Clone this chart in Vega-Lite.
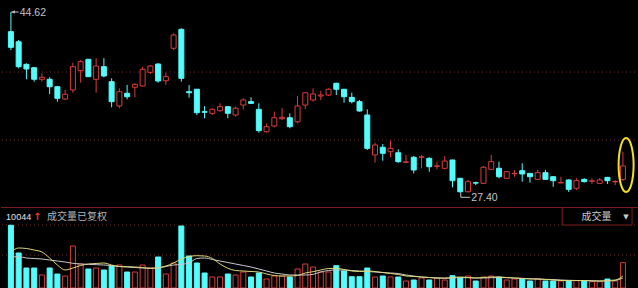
{
  "$schema": "https://vega.github.io/schema/vega-lite/v6.json",
  "background": "#000000",
  "padding": 0,
  "width": 638,
  "height": 288,
  "config": {"view": {"stroke": null}},
  "resolve": {"scale": {"y": "independent"}},
  "datasets": {
    "k": [
      {"i":0,"o":42.75,"h":44.62,"l":41.00,"c":41.26,"v":10044,"m5":5760,"m10":4960},
      {"i":1,"o":41.79,"h":41.96,"l":39.26,"c":39.42,"v":5600,"m5":6400,"m10":5010},
      {"i":2,"o":39.64,"h":39.74,"l":38.22,"c":39.20,"v":3200,"m5":6320,"m10":4800},
      {"i":3,"o":39.32,"h":39.39,"l":37.99,"c":38.22,"v":3200,"m5":6080,"m10":4720},
      {"i":4,"o":38.22,"h":38.79,"l":37.99,"c":38.41,"v":2080,"m5":5760,"m10":4640},
      {"i":5,"o":38.22,"h":38.41,"l":36.82,"c":37.51,"v":3200,"m5":4800,"m10":4480},
      {"i":6,"o":37.51,"h":37.58,"l":36.09,"c":36.41,"v":2240,"m5":3680,"m10":4320},
      {"i":7,"o":36.34,"h":37.20,"l":36.25,"c":36.79,"v":1920,"m5":2880,"m10":4160},
      {"i":8,"o":37.20,"h":39.80,"l":36.94,"c":39.42,"v":6720,"m5":3200,"m10":3950},
      {"i":9,"o":39.04,"h":40.05,"l":37.89,"c":39.89,"v":3840,"m5":3600,"m10":3840},
      {"i":10,"o":40.12,"h":40.15,"l":38.44,"c":38.47,"v":3040,"m5":3840,"m10":3790},
      {"i":11,"o":38.22,"h":40.22,"l":36.94,"c":39.48,"v":3200,"m5":3920,"m10":3730},
      {"i":12,"o":39.42,"h":40.22,"l":38.41,"c":38.53,"v":2880,"m5":4000,"m10":3680},
      {"i":13,"o":37.99,"h":38.31,"l":35.55,"c":36.09,"v":3520,"m5":3680,"m10":3600},
      {"i":14,"o":35.68,"h":37.36,"l":35.46,"c":37.04,"v":3680,"m5":3440,"m10":3440},
      {"i":15,"o":36.89,"h":37.68,"l":36.31,"c":36.56,"v":2560,"m5":3410,"m10":3360},
      {"i":16,"o":37.46,"h":37.84,"l":36.50,"c":37.74,"v":2560,"m5":3360,"m10":3280},
      {"i":17,"o":37.58,"h":39.42,"l":37.51,"c":39.17,"v":3680,"m5":3280,"m10":3200},
      {"i":18,"o":38.88,"h":39.58,"l":38.72,"c":39.48,"v":3200,"m5":3150,"m10":3150},
      {"i":19,"o":39.67,"h":39.74,"l":37.89,"c":38.06,"v":4960,"m5":3250,"m10":3200},
      {"i":20,"o":38.08,"h":38.85,"l":37.68,"c":38.47,"v":2240,"m5":3520,"m10":3440},
      {"i":21,"o":41.17,"h":42.59,"l":41.00,"c":42.43,"v":4000,"m5":4000,"m10":3680},
      {"i":22,"o":42.97,"h":43.07,"l":37.99,"c":38.31,"v":9920,"m5":4640,"m10":3790},
      {"i":23,"o":37.04,"h":37.68,"l":36.47,"c":36.94,"v":5120,"m5":5040,"m10":4000},
      {"i":24,"o":37.27,"h":37.30,"l":34.82,"c":35.04,"v":4000,"m5":5170,"m10":4720},
      {"i":25,"o":35.14,"h":35.68,"l":34.51,"c":35.08,"v":2400,"m5":5120,"m10":4800},
      {"i":26,"o":34.98,"h":35.46,"l":34.82,"c":35.36,"v":1760,"m5":4720,"m10":4560},
      {"i":27,"o":35.23,"h":35.93,"l":35.14,"c":35.61,"v":1760,"m5":3840,"m10":4320},
      {"i":28,"o":35.61,"h":35.68,"l":34.51,"c":34.98,"v":2240,"m5":3150,"m10":4080},
      {"i":29,"o":34.82,"h":35.61,"l":34.66,"c":35.46,"v":2080,"m5":2800,"m10":3840},
      {"i":30,"o":35.77,"h":36.41,"l":35.36,"c":36.25,"v":2560,"m5":2720,"m10":3600},
      {"i":31,"o":36.09,"h":36.50,"l":35.87,"c":35.93,"v":1760,"m5":2640,"m10":3360},
      {"i":32,"o":35.36,"h":35.93,"l":33.14,"c":33.33,"v":2400,"m5":2560,"m10":3040},
      {"i":33,"o":33.23,"h":34.03,"l":33.14,"c":33.71,"v":1440,"m5":2240,"m10":2720},
      {"i":34,"o":33.77,"h":35.14,"l":33.65,"c":34.56,"v":1920,"m5":2000,"m10":2400},
      {"i":35,"o":34.47,"h":35.46,"l":34.35,"c":34.60,"v":1920,"m5":1920,"m10":2240},
      {"i":36,"o":34.56,"h":34.98,"l":33.56,"c":33.71,"v":1760,"m5":1920,"m10":2080},
      {"i":37,"o":34.18,"h":36.63,"l":34.03,"c":35.68,"v":3040,"m5":2000,"m10":2080},
      {"i":38,"o":35.77,"h":36.97,"l":35.36,"c":36.94,"v":3840,"m5":2400,"m10":2080},
      {"i":39,"o":36.25,"h":37.36,"l":36.09,"c":36.82,"v":3360,"m5":2610,"m10":2190},
      {"i":40,"o":36.63,"h":37.13,"l":36.25,"c":36.72,"v":2560,"m5":2880,"m10":2560},
      {"i":41,"o":36.72,"h":37.36,"l":36.63,"c":37.27,"v":2560,"m5":3120,"m10":2800},
      {"i":42,"o":37.84,"h":37.89,"l":36.72,"c":37.27,"v":3570,"m5":3150,"m10":2880},
      {"i":43,"o":37.27,"h":37.30,"l":35.99,"c":36.56,"v":2720,"m5":2960,"m10":2880},
      {"i":44,"o":36.50,"h":36.94,"l":35.93,"c":36.09,"v":1810,"m5":2720,"m10":2800},
      {"i":45,"o":36.09,"h":36.25,"l":35.14,"c":35.20,"v":1810,"m5":2640,"m10":2720},
      {"i":46,"o":34.82,"h":35.36,"l":31.49,"c":31.65,"v":3200,"m5":2720,"m10":2640},
      {"i":47,"o":31.02,"h":32.19,"l":30.28,"c":31.97,"v":1760,"m5":2640,"m10":2560},
      {"i":48,"o":31.75,"h":32.06,"l":30.47,"c":31.18,"v":1920,"m5":2480,"m10":2480},
      {"i":49,"o":31.33,"h":32.38,"l":30.80,"c":31.65,"v":1760,"m5":2320,"m10":2400},
      {"i":50,"o":31.23,"h":31.56,"l":30.28,"c":30.38,"v":1760,"m5":2160,"m10":2320},
      {"i":51,"o":30.32,"h":31.02,"l":30.24,"c":30.36,"v":1120,"m5":1920,"m10":2080},
      {"i":52,"o":30.80,"h":30.92,"l":29.27,"c":29.59,"v":1280,"m5":1840,"m10":1920},
      {"i":53,"o":30.80,"h":31.02,"l":29.75,"c":30.84,"v":1600,"m5":1760,"m10":1760},
      {"i":54,"o":30.70,"h":30.80,"l":29.43,"c":29.90,"v":1280,"m5":1680,"m10":1680},
      {"i":55,"o":29.94,"h":30.38,"l":29.65,"c":29.98,"v":1600,"m5":1600,"m10":1600},
      {"i":56,"o":29.75,"h":30.92,"l":29.65,"c":30.44,"v":1280,"m5":1600,"m10":1550},
      {"i":57,"o":30.54,"h":30.56,"l":27.94,"c":28.57,"v":1970,"m5":1680,"m10":1600},
      {"i":58,"o":28.80,"h":28.83,"l":27.40,"c":27.52,"v":1600,"m5":1760,"m10":1680},
      {"i":59,"o":27.52,"h":28.64,"l":27.45,"c":28.48,"v":1920,"m5":1680,"m10":1650},
      {"i":60,"o":28.38,"h":28.48,"l":28.16,"c":28.34,"v":1120,"m5":1600,"m10":1600},
      {"i":61,"o":28.32,"h":29.97,"l":28.26,"c":29.85,"v":1760,"m5":1680,"m10":1600},
      {"i":62,"o":29.65,"h":31.02,"l":29.65,"c":30.38,"v":1920,"m5":1760,"m10":1650},
      {"i":63,"o":29.75,"h":30.38,"l":28.80,"c":28.95,"v":1760,"m5":1760,"m10":1680},
      {"i":64,"o":28.80,"h":29.45,"l":28.78,"c":29.43,"v":1280,"m5":1680,"m10":1650},
      {"i":65,"o":29.24,"h":29.59,"l":28.95,"c":29.27,"v":1440,"m5":1600,"m10":1600},
      {"i":66,"o":29.52,"h":30.22,"l":28.48,"c":29.21,"v":1440,"m5":1520,"m10":1550},
      {"i":67,"o":29.27,"h":29.29,"l":28.38,"c":28.95,"v":1120,"m5":1440,"m10":1490},
      {"i":68,"o":28.70,"h":29.59,"l":28.64,"c":29.33,"v":1440,"m5":1440,"m10":1440},
      {"i":69,"o":29.33,"h":29.59,"l":28.64,"c":28.70,"v":1120,"m5":1360,"m10":1390},
      {"i":70,"o":28.95,"h":28.97,"l":27.99,"c":28.57,"v":1120,"m5":1280,"m10":1360},
      {"i":71,"o":28.36,"h":28.95,"l":28.32,"c":28.40,"v":1120,"m5":1200,"m10":1280},
      {"i":72,"o":28.64,"h":28.70,"l":27.50,"c":27.75,"v":1120,"m5":1200,"m10":1230},
      {"i":73,"o":27.85,"h":28.80,"l":27.69,"c":28.57,"v":1170,"m5":1200,"m10":1200},
      {"i":74,"o":28.70,"h":28.80,"l":28.40,"c":28.48,"v":1120,"m5":1200,"m10":1200},
      {"i":75,"o":28.52,"h":28.80,"l":28.26,"c":28.56,"v":1010,"m5":1120,"m10":1170},
      {"i":76,"o":28.32,"h":28.83,"l":28.30,"c":28.64,"v":1010,"m5":1120,"m10":1120},
      {"i":77,"o":28.89,"h":28.91,"l":28.26,"c":28.57,"v":1440,"m5":1200,"m10":1120},
      {"i":78,"o":28.46,"h":28.64,"l":28.16,"c":28.49,"v":1120,"m5":1280,"m10":1200},
      {"i":79,"o":28.70,"h":31.33,"l":28.54,"c":29.97,"v":4050,"m5":1920,"m10":1600}
    ]
  },
  "layer": [
    {
      "data": {"values": [{"p": 38.91}, {"p": 32.44}]},
      "mark": {"type": "rule", "color": "#6e2a2a", "strokeDash": [1, 3], "strokeWidth": 1},
      "encoding": {
        "y": {"field": "p", "type": "quantitative", "scale": {"domain": [26.068, 45.762], "range": [207, 0], "nice": false, "zero": false}, "axis": null}
      }
    },
    {
      "data": {"name": "k"},
      "mark": {"type": "rule", "strokeWidth": 1},
      "encoding": {
        "x": {"field": "i", "type": "quantitative", "scale": {"domain": [-0.635, 80.43], "nice": false, "zero": false}, "axis": null},
        "y": {"field": "l", "type": "quantitative", "scale": {"domain": [26.068, 45.762], "range": [207, 0], "nice": false, "zero": false}, "axis": null},
        "y2": {"field": "h"},
        "color": {"condition": {"test": "datum.c >= datum.o", "value": "#d83c3c"}, "value": "#54fcfc"}
      }
    },
    {
      "data": {"name": "k"},
      "mark": {"type": "bar", "width": 5, "strokeWidth": 1},
      "encoding": {
        "x": {"field": "i", "type": "quantitative", "axis": null},
        "y": {"field": "o", "type": "quantitative", "scale": {"domain": [26.068, 45.762], "range": [207, 0], "nice": false, "zero": false}, "axis": null},
        "y2": {"field": "c"},
        "fill": {"condition": {"test": "datum.c >= datum.o", "value": "#000000"}, "value": "#54fcfc"},
        "stroke": {"condition": {"test": "datum.c >= datum.o", "value": "#d83c3c"}, "value": "#54fcfc"}
      }
    },
    {
      "data": {"values": [{"x1": 0.04, "x2": 1.0, "p": 44.62}]},
      "mark": {"type": "rule", "color": "#c0c0c0", "strokeWidth": 1},
      "encoding": {
        "x": {"field": "x1", "type": "quantitative", "axis": null},
        "x2": {"field": "x2"},
        "y": {"field": "p", "type": "quantitative", "scale": {"domain": [26.068, 45.762], "range": [207, 0], "nice": false, "zero": false}, "axis": null}
      }
    },
    {
      "data": {"values": [{"x": 0.3, "p": 44.62}]},
      "mark": {"type": "point", "shape": "triangle-left", "filled": true, "size": 14, "color": "#c0c0c0", "opacity": 1},
      "encoding": {
        "x": {"field": "x", "type": "quantitative", "axis": null},
        "y": {"field": "p", "type": "quantitative", "scale": {"domain": [26.068, 45.762], "range": [207, 0], "nice": false, "zero": false}, "axis": null}
      }
    },
    {
      "data": {"values": [{"x": 1.14, "p": 44.55, "t": "44.62"}, {"x": 59.43, "p": 26.92, "t": "27.40"}]},
      "mark": {"type": "text", "align": "left", "baseline": "middle", "font": "Liberation Sans", "fontSize": 10.5, "color": "#c4c4c4"},
      "encoding": {
        "x": {"field": "x", "type": "quantitative", "axis": null},
        "y": {"field": "p", "type": "quantitative", "scale": {"domain": [26.068, 45.762], "range": [207, 0], "nice": false, "zero": false}, "axis": null},
        "text": {"field": "t", "type": "nominal"}
      }
    },
    {
      "data": {"values": [{"x1": 58.07, "x2": 58.07, "p1": 27.40, "p2": 26.99}, {"x1": 58.07, "x2": 59.28, "p1": 26.99, "p2": 26.99}]},
      "mark": {"type": "rule", "color": "#c0c0c0", "strokeWidth": 1},
      "encoding": {
        "x": {"field": "x1", "type": "quantitative", "axis": null},
        "x2": {"field": "x2"},
        "y": {"field": "p1", "type": "quantitative", "scale": {"domain": [26.068, 45.762], "range": [207, 0], "nice": false, "zero": false}, "axis": null},
        "y2": {"field": "p2"}
      }
    },
    {
      "data": {"values": [{"x": 79.41, "p": 30.06}]},
      "mark": {
        "type": "point",
        "shape": "M0,-1C0.1535,-1 0.278,-0.5523 0.278,0C0.278,0.5523 0.1535,1 0,1C-0.1535,1 -0.278,0.5523 -0.278,0C-0.278,-0.5523 -0.1535,-1 0,-1Z",
        "size": 2916,
        "filled": false,
        "stroke": "#f0e020",
        "strokeWidth": 2,
        "opacity": 1
      },
      "encoding": {
        "x": {"field": "x", "type": "quantitative", "axis": null},
        "y": {"field": "p", "type": "quantitative", "scale": {"domain": [26.068, 45.762], "range": [207, 0], "nice": false, "zero": false}, "axis": null}
      }
    },
    {
      "data": {"values": [{"v": 10080}, {"v": 5280}]},
      "mark": {"type": "rule", "color": "#6e2a2a", "strokeDash": [1, 3], "strokeWidth": 1},
      "encoding": {
        "y": {"field": "v", "type": "quantitative", "scale": {"domain": [0, 12960], "range": [288, 207], "nice": false, "zero": false}, "axis": null}
      }
    },
    {
      "data": {"values": [{"v": 12880}]},
      "mark": {"type": "rule", "color": "#7a1c1c", "strokeWidth": 1},
      "encoding": {
        "y": {"field": "v", "type": "quantitative", "scale": {"domain": [0, 12960], "range": [288, 207], "nice": false, "zero": false}, "axis": null}
      }
    },
    {
      "data": {"name": "k"},
      "mark": {"type": "bar", "width": 5, "strokeWidth": 1},
      "encoding": {
        "x": {"field": "i", "type": "quantitative", "axis": null},
        "y": {"field": "v", "type": "quantitative", "scale": {"domain": [0, 12960], "range": [288, 207], "nice": false, "zero": false}, "axis": null},
        "y2": {"datum": 0},
        "fill": {"condition": {"test": "datum.c >= datum.o", "value": "#000000"}, "value": "#54fcfc"},
        "stroke": {"condition": {"test": "datum.c >= datum.o", "value": "#d83c3c"}, "value": "#54fcfc"}
      }
    },
    {
      "data": {"name": "k"},
      "mark": {"type": "line", "color": "#c8c8c8", "strokeWidth": 1, "interpolate": "monotone"},
      "encoding": {
        "x": {"field": "i", "type": "quantitative", "axis": null},
        "y": {"field": "m10", "type": "quantitative", "scale": {"domain": [0, 12960], "range": [288, 207], "nice": false, "zero": false}, "axis": null}
      }
    },
    {
      "data": {"name": "k"},
      "mark": {"type": "line", "color": "#dcd878", "strokeWidth": 1, "interpolate": "monotone"},
      "encoding": {
        "x": {"field": "i", "type": "quantitative", "axis": null},
        "y": {"field": "m5", "type": "quantitative", "scale": {"domain": [0, 12960], "range": [288, 207], "nice": false, "zero": false}, "axis": null}
      }
    },
    {
      "data": {"values": [{"x1": 71.16, "x2": 80.18, "v1": 12880, "v2": 10080}]},
      "mark": {"type": "rect", "fill": "#000000", "stroke": "#7a1c1c", "strokeWidth": 1},
      "encoding": {
        "x": {"field": "x1", "type": "quantitative", "axis": null},
        "x2": {"field": "x2"},
        "y": {"field": "v1", "type": "quantitative", "scale": {"domain": [0, 12960], "range": [288, 207], "nice": false, "zero": false}, "axis": null},
        "y2": {"field": "v2"}
      }
    },
    {
      "data": {"values": [{"x": -0.62, "v": 11360, "t": "10044"}]},
      "mark": {"type": "text", "baseline": "middle", "align": "left", "fontSize": 9, "font": "Liberation Sans", "color": "#e0e0e0"},
      "encoding": {
        "x": {"field": "x", "type": "quantitative", "axis": null},
        "y": {"field": "v", "type": "quantitative", "scale": {"domain": [0, 12960], "range": [288, 207], "nice": false, "zero": false}, "axis": null},
        "text": {"field": "t", "type": "nominal"}
      }
    },
    {
      "data": {"values": [{"x": 3.4, "v": 11360, "t": "↑"}]},
      "mark": {"type": "text", "baseline": "middle", "align": "center", "fontSize": 10, "font": "DejaVu Sans", "fontWeight": "bold", "color": "#ff3030"},
      "encoding": {
        "x": {"field": "x", "type": "quantitative", "axis": null},
        "y": {"field": "v", "type": "quantitative", "scale": {"domain": [0, 12960], "range": [288, 207], "nice": false, "zero": false}, "axis": null},
        "text": {"field": "t", "type": "nominal"}
      }
    },
    {
      "data": {"values": [{"x": 4.65, "v": 11360, "t": "成交量已复权"}]},
      "mark": {"type": "text", "baseline": "middle", "align": "left", "fontSize": 10, "font": "Noto Sans CJK SC", "color": "#b4b4b4"},
      "encoding": {
        "x": {"field": "x", "type": "quantitative", "axis": null},
        "y": {"field": "v", "type": "quantitative", "scale": {"domain": [0, 12960], "range": [288, 207], "nice": false, "zero": false}, "axis": null},
        "text": {"field": "t", "type": "nominal"}
      }
    },
    {
      "data": {"values": [{"x": 75.6, "v": 11360, "t": "成交量"}]},
      "mark": {"type": "text", "baseline": "middle", "align": "center", "fontSize": 10, "font": "Noto Sans CJK SC", "color": "#c8c8c8"},
      "encoding": {
        "x": {"field": "x", "type": "quantitative", "axis": null},
        "y": {"field": "v", "type": "quantitative", "scale": {"domain": [0, 12960], "range": [288, 207], "nice": false, "zero": false}, "axis": null},
        "text": {"field": "t", "type": "nominal"}
      }
    },
    {
      "data": {"values": [{"x": 79.4, "v": 11360, "t": "▼"}]},
      "mark": {"type": "text", "baseline": "middle", "align": "center", "fontSize": 7, "font": "DejaVu Sans", "color": "#c8c8c8"},
      "encoding": {
        "x": {"field": "x", "type": "quantitative", "axis": null},
        "y": {"field": "v", "type": "quantitative", "scale": {"domain": [0, 12960], "range": [288, 207], "nice": false, "zero": false}, "axis": null},
        "text": {"field": "t", "type": "nominal"}
      }
    }
  ]
}
